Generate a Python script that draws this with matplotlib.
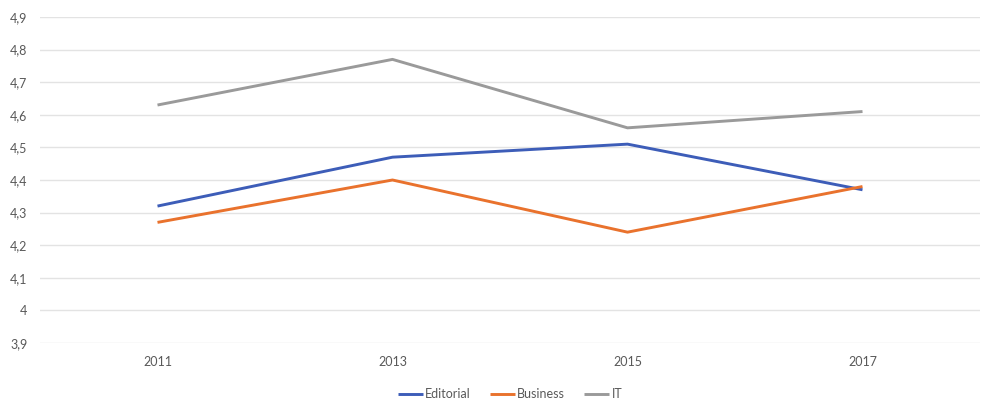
import numpy as np
import matplotlib
matplotlib.use('Agg')
import matplotlib.pyplot as plt
from matplotlib.ticker import FuncFormatter

plt.rcParams['font.family'] = ['Lato', 'DejaVu Sans']

# data
years = ['2011', '2013', '2015', '2017']
editorial = [4.32, 4.47, 4.51, 4.37]
business = [4.27, 4.40, 4.24, 4.38]
it = [4.63, 4.77, 4.56, 4.61]

fig = plt.figure(figsize=(9.81, 3.99), dpi=100)
ax = fig.add_axes([40 / 981, 1 - 343 / 399, 940 / 981, 326 / 399])

x = np.arange(len(years))
ax.plot(x, editorial, color='#3D5DB8', lw=2.1, label='Editorial', solid_capstyle='butt')
ax.plot(x, business, color='#E9722D', lw=2.1, label='Business', solid_capstyle='butt')
ax.plot(x, it, color='#9A9A9A', lw=2.1, label='IT', solid_capstyle='butt')

ax.set_xlim(-0.5, 3.5)
ax.set_ylim(3.9, 4.9)
ax.set_yticks(np.round(np.arange(3.9, 4.95, 0.1), 1))


def fmt(v, pos):
    s = f'{v:.1f}'
    if s.endswith('.0'):
        s = s[:-2]
    return s.replace('.', ',')


ax.yaxis.set_major_formatter(FuncFormatter(fmt))
ax.set_xticks(x)
ax.set_xticklabels(years)

ax.grid(axis='y', color='#E3E3E3', lw=1.0)
ax.set_axisbelow(True)
for s in ax.spines.values():
    s.set_visible(False)
ax.tick_params(axis='both', length=0, labelsize=9, labelcolor='#595959')
ax.tick_params(axis='y', pad=9)
ax.tick_params(axis='x', pad=9)

ax.legend(loc='upper center', bbox_to_anchor=(0.5, -0.105), ncol=3, frameon=False,
          fontsize=9, labelcolor='#595959', handlelength=2.0, handletextpad=0.2,
          columnspacing=1.5)

fig.savefig('out.png', dpi=100)
